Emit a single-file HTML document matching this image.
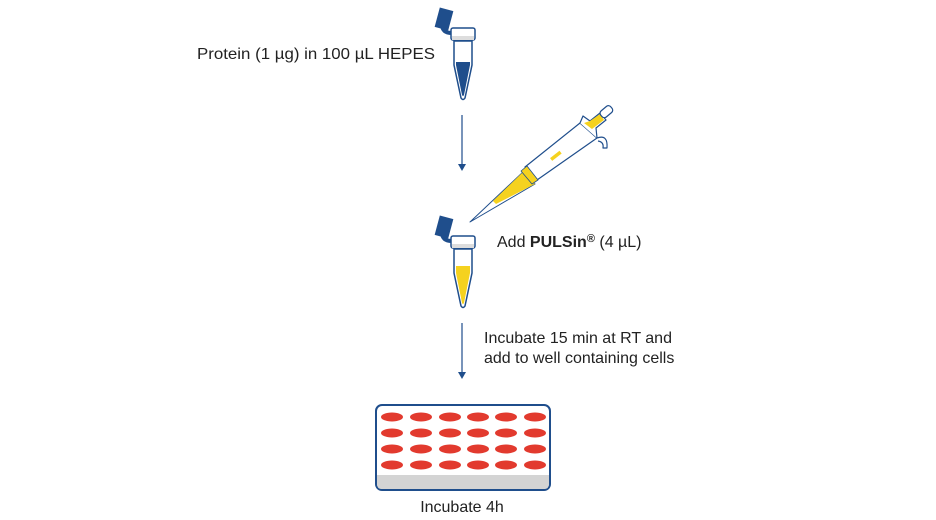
<!DOCTYPE html>
<html><head><meta charset="utf-8"><style>
html,body{margin:0;padding:0;background:#fff;}
svg{display:block;}
text{font-family:"Liberation Sans",sans-serif;font-size:16px;fill:#222;}
</style></head><body>
<svg width="936" height="520" viewBox="0 0 936 520" xmlns="http://www.w3.org/2000/svg">
<defs>
<g id="tube">
  <path d="M452 33 Q442 33 442 24" fill="none" stroke="#1f4e8c" stroke-width="4"/>
  <rect x="437" y="9" width="14" height="20" fill="#1f4e8c" transform="rotate(15 444 19)"/>
  <rect x="451" y="28" width="24" height="12" rx="2" fill="#fff" stroke="#1f4e8c" stroke-width="1.5"/>
  <rect x="452" y="36" width="22" height="4" fill="#ddd"/>
  <path d="M454 41 L472 41 L472 65 L465 98 Q463 101 461 98 L454 65 Z" fill="#fff" stroke="#1f4e8c" stroke-width="1.5"/>
</g>
</defs>
<text x="197" y="59" textLength="238" lengthAdjust="spacingAndGlyphs">Protein (1 µg) in 100 µL HEPES</text>
<use href="#tube"/>
<path d="M456 62 L470 62 L470 65 L464 95 Q463 97 462 95 L456 65 Z" fill="#1f4e8c"/>
<line x1="462" y1="115" x2="462" y2="164" stroke="#1f4e8c" stroke-width="1.2"/>
<path d="M458 164 L466 164 L462 171 Z" fill="#1f4e8c"/>
<!-- pipette -->
<g stroke-linejoin="round">
  <path d="M523 172 L470 222 L535 184 Z" fill="#fff" stroke="#1f4e8c" stroke-width="1"/>
  <path d="M523 172 L493 201 L496 204 L535 184 Z" fill="#f5d21f"/>
  <path d="M525 167 L580 123 L597 138 L537 180 Z" fill="#fff" stroke="#1f4e8c" stroke-width="1.2"/>
  <path d="M521 171 L527 166 L538 180 L532 184 Z" fill="#f5d21f" stroke="#1f4e8c" stroke-width="0.8"/>
  <path d="M580 123 L583 116 L590 121 L600 113 L606 120 L596 128 L597 138" fill="#fff" stroke="#1f4e8c" stroke-width="1.2"/>
  <path d="M584 123 L590 121 L600 114 L604 120 L592 129 Z" fill="#f5d21f"/>
  <rect x="600" y="108" width="13" height="8" rx="3" fill="#fff" stroke="#1f4e8c" stroke-width="1.2" transform="rotate(-40 606 112)"/>
  <path d="M597 138 Q608 134 607 148 L603 148 Q604 142 598 141" fill="#fff" stroke="#1f4e8c" stroke-width="1.2"/>
  <rect x="550" y="154" width="12" height="3.5" fill="#f5d21f" transform="rotate(-38 556 156)"/>
</g>
<g transform="translate(0,208)"><use href="#tube"/>
<path d="M456 58 L470 58 L470 65 L464 95 Q463 97 462 95 L456 65 Z" fill="#f5d21f"/></g>
<text x="497" y="247">Add <tspan font-weight="bold">PULSin</tspan><tspan font-weight="bold" font-size="11" dy="-5">®</tspan><tspan dy="5"> (4 µL)</tspan></text>
<line x1="462" y1="323" x2="462" y2="372" stroke="#1f4e8c" stroke-width="1.2"/>
<path d="M458 372 L466 372 L462 379 Z" fill="#1f4e8c"/>
<text x="484" y="343">Incubate 15 min at RT and</text>
<text x="484" y="363">add to well containing cells</text>
<!-- plate -->
<rect x="376" y="405" width="174" height="85" rx="6" fill="#fff" stroke="#1f4e8c" stroke-width="2"/>
<path d="M377 475 L549 475 L549 484 Q549 489 544 489 L382 489 Q377 489 377 484 Z" fill="#d4d4d4"/>
<g fill="#e23a2e">
<g id="row">
<ellipse cx="392" cy="417" rx="11" ry="4.5"/><ellipse cx="421" cy="417" rx="11" ry="4.5"/><ellipse cx="450" cy="417" rx="11" ry="4.5"/><ellipse cx="478" cy="417" rx="11" ry="4.5"/><ellipse cx="506" cy="417" rx="11" ry="4.5"/><ellipse cx="535" cy="417" rx="11" ry="4.5"/>
</g>
<use href="#row" y="16"/><use href="#row" y="32"/><use href="#row" y="48"/>
</g>
<text x="462" y="512" text-anchor="middle">Incubate 4h</text>
</svg>
</body></html>
